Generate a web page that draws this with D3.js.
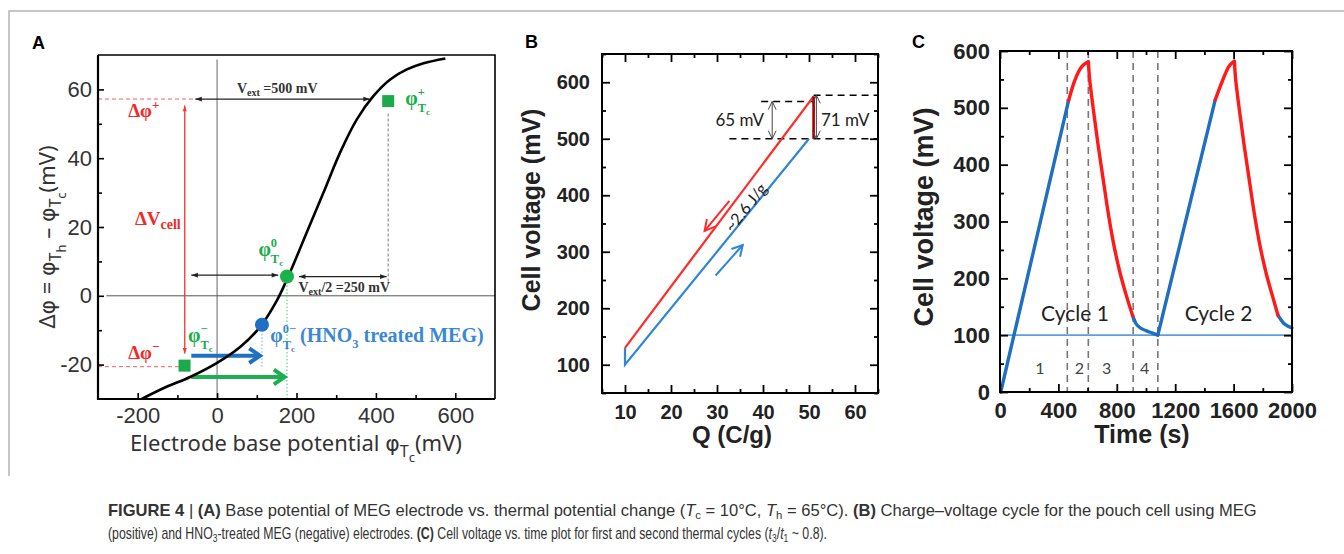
<!DOCTYPE html>
<html lang="en">
<head>
<meta charset="UTF-8">
<title>Figure 4</title>
<script src="https://cdn.jsdelivr.net/npm/d3@7"></script>
<style>
  body { margin: 0; background: #fff; }
  svg { display: block; font-family: Arial, "Liberation Sans", sans-serif; }
  .tick line { stroke: #000; }
</style>
</head>
<body>
<svg width="1344" height="554"></svg>
<script>
// ---- panel A: thermal potential change vs base potential
var curveA = [[-190,-30],[-130,-26.6],[-68,-23.6],[0,-19.5],[58,-14.9],[108,-9.1],[150,-1.5],[184,6.9],
              [226,18.5],[268,30],[310,41.7],[352,51.3],[394,58.1],[436,62.9],[478,65.8],[520,67.6],[575,69]];
var squaresA = [[-82,-20.3],[431,56.6]];
var dotsA = [[176,5.6,'green'],[113,-8.4,'blue']];
var xTicksA = [-200,0,200,400,600];
var xMinorA = [-100,100,300,500];
var yTicksA = [-20,0,20,40,60];
var yMinorA = [-10,10,30,50];

// ---- panel B: charge-voltage cycle
var chargeB = [[10,130],[10,100],[50,500]];
var dischargeB = [[10,130],[51,575]];
var heatB = [[51,500],[51,575]];
var xTicksB = [10,20,30,40,50,60];
var xMinorB = [5,15,25,35,45,55,65];
var yTicksB = [100,200,300,400,500,600];
var yMinorB = [50,150,250,350,450,550,650];

// ---- panel C: cell voltage vs time
var blueC = [
  [[5,0],[470,513]],
  [[909,134],[930,121],[960,113],[1000,108],[1040,104],[1081,100]],
  [[1081,100],[1474,514]],
  [[1904,135],[1943,121],[1970,116],[2000,113]]
];
var redC = [
  [[470,513],[505,543],[550,569],[605,581]],
  [[605,581],[612,556],[625,526],[645,486],[670,438],[700,386],[735,325],[775,265],[820,212],[865,170],[909,134]],
  [[1474,514],[1520,545],[1566,572],[1605,582]],
  [[1605,582],[1612,556],[1625,526],[1645,486],[1670,438],[1700,386],[1735,325],[1775,265],[1820,212],[1865,170],[1904,135]]
];
var dashC = [461,605,912,1081];
var phaseC = ['1','2','3','4'];
var phaseT = [274,544,731,990];
var cycleC = ['Cycle 1','Cycle 2'];
var cycleT = [514,1497];
var baseC = 100;
var xTicksC = [0,400,800,1200,1600,2000];
var xMinorC = [200,600,1000,1400,1800];
var yTicksC = [0,100,200,300,400,500,600];
var yMinorC = [50,150,250,350,450,550];

var svg = d3.select('svg');
var serif = "'Liberation Serif','DejaVu Serif',serif";
var calib = "Lato,'Open Sans',sans-serif";
var green = '#19ad4b', blueA = '#3a88d4', redA = '#ee2b2b';

// figure frame
svg.append('path').attr('d','M9,476V11H1344').attr('fill','none').attr('stroke','#b4b4b4').attr('stroke-width',1.5);

function head(g, p0, p1, len, ang, color, w, filled) {
    var a = Math.atan2(p1[1]-p0[1], p1[0]-p0[0]);
    var l = [p1[0]-len*Math.cos(a-ang), p1[1]-len*Math.sin(a-ang)];
    var r = [p1[0]-len*Math.cos(a+ang), p1[1]-len*Math.sin(a+ang)];
    var p = g.append('path').attr('d', 'M'+l+'L'+p1+'L'+r+(filled ? 'Z' : ''));
    if (filled) p.attr('fill', color);
    else p.attr('fill','none').attr('stroke',color).attr('stroke-width',w);
}
function arrow(g, p0, p1, o) {
    g.append('line').attr('x1',p0[0]).attr('y1',p0[1]).attr('x2',p1[0]).attr('y2',p1[1])
        .attr('stroke',o.color).attr('stroke-width',o.w);
    head(g, p0, p1, o.len, o.ang, o.color, o.w, o.filled);
    if (o.both) head(g, p1, p0, o.len, o.ang, o.color, o.w, o.filled);
}
function axes(g, x, y, o) {
    var x0 = x.range()[0], x1 = x.range()[1], y0 = y.range()[0], y1 = y.range()[1];
    var fmt = function(d) { return String(d); };
    var sets = [
        [d3.axisBottom(x).tickValues(o.xMaj).tickSize(-o.maj).tickPadding(o.padX).tickFormat(fmt), 0, y0],
        [d3.axisBottom(x).tickValues(o.xMin).tickSize(-o.min).tickFormat(''), 0, y0],
        [d3.axisLeft(y).tickValues(o.yMaj).tickSize(-o.maj).tickPadding(o.padY).tickFormat(fmt), x0, 0],
        [d3.axisLeft(y).tickValues(o.yMin).tickSize(-o.min).tickFormat(''), x0, 0]
    ];
    if (o.all) {
        sets.push([d3.axisTop(x).tickValues(o.xMaj).tickSize(-o.maj).tickFormat(''), 0, y1]);
        sets.push([d3.axisTop(x).tickValues(o.xMin).tickSize(-o.min).tickFormat(''), 0, y1]);
        sets.push([d3.axisRight(y).tickValues(o.yMaj).tickSize(-o.maj).tickFormat(''), x1, 0]);
        sets.push([d3.axisRight(y).tickValues(o.yMin).tickSize(-o.min).tickFormat(''), x1, 0]);
    }
    sets.forEach(function(s) {
        var a = g.append('g').attr('transform','translate('+s[1]+','+s[2]+')').call(s[0]);
        a.select('.domain').remove();
        a.selectAll('line').attr('stroke-width', o.tw);
        a.selectAll('text').attr('font-size', o.fs).attr('font-weight', o.fw).attr('fill', o.tc)
            .attr('font-family', "Arial,'Liberation Sans',sans-serif");
    });
}
function rich(g, x, y, parts, base) {
    var t = g.append('text').attr('x',x).attr('y',y);
    for (var k in base) t.attr(k, base[k]);
    var cur = 0;
    parts.forEach(function(p) {
        var off = p.off || 0;
        var s = t.append('tspan').text(p.t).attr('dy', off - cur);
        if (p.fs) s.attr('font-size', p.fs);
        if (p.it) s.attr('font-style','italic');
        if (p.b) s.attr('font-weight','bold');
        if (p.ff) s.attr('font-family', p.ff);
        cur = off;
    });
    return t;
}

// =================== Panel A ===================
var xA = d3.scaleLinear().domain([-300,700]).range([98,495]);
var yA = d3.scaleLinear().domain([-30,70]).range([399,55]);
var gA = svg.append('g');
gA.append('text').attr('x',32).attr('y',49).text('A').attr('font-weight','bold').attr('font-size',18);

// reference lines
gA.append('line').attr('x1',xA(0)).attr('x2',xA(0)).attr('y1',yA(-30)).attr('y2',yA(68.7)).attr('stroke','#9a9a9a').attr('stroke-width',1.5);
gA.append('line').attr('x1',xA(-279)).attr('x2',xA(700)).attr('y1',yA(0)).attr('y2',yA(0)).attr('stroke','#555').attr('stroke-width',1);

// red dashed guides
gA.append('line').attr('x1',xA(-300)).attr('x2',xA(-56)).attr('y1',yA(57.2)).attr('y2',yA(57.2)).attr('stroke','#f06060').attr('stroke-width',1).attr('stroke-dasharray','4,3');
gA.append('line').attr('x1',xA(-300)).attr('x2',xA(-90)).attr('y1',yA(-20.6)).attr('y2',yA(-20.6)).attr('stroke','#f06060').attr('stroke-width',1).attr('stroke-dasharray','4,3');
arrow(gA, [xA(-81.5),yA(-16.8)], [xA(-81.5),yA(55.3)], {color:'#ff3030', w:1.3, len:6, ang:0.35, filled:true, both:true});

// dotted drops
gA.append('line').attr('x1',xA(431)).attr('x2',xA(431)).attr('y1',yA(53)).attr('y2',yA(3.4)).attr('stroke','#999').attr('stroke-width',1.3).attr('stroke-dasharray','3,2');
gA.append('line').attr('x1',xA(176)).attr('x2',xA(176)).attr('y1',yA(3)).attr('y2',yA(-30)).attr('stroke','#86dba6').attr('stroke-width',1.5).attr('stroke-dasharray','1.5,2');
gA.append('line').attr('x1',xA(113)).attr('x2',xA(113)).attr('y1',yA(-11)).attr('y2',yA(-21.3)).attr('stroke','#9cc8ee').attr('stroke-width',1.5).attr('stroke-dasharray','1.5,2');

// black span arrows
var blk = {color:'#222', w:1.3, len:7, ang:0.35, filled:true, both:true};
arrow(gA, [xA(-55),yA(57.2)], [xA(385),yA(57.2)], blk);
arrow(gA, [xA(-65),yA(6)], [xA(154),yA(6)], blk);
arrow(gA, [xA(206),yA(5.6)], [xA(427),yA(5.6)], blk);

// shift arrows
arrow(gA, [xA(-65),yA(-17.4)], [xA(108),yA(-17.4)], {color:'#1f6fc5', w:4, len:13, ang:0.6});
arrow(gA, [xA(-65),yA(-23.6)], [xA(170),yA(-23.6)], {color:'#1db050', w:4, len:13, ang:0.6});

// curve
gA.append('path').datum(curveA)
    .attr('d', d3.line().x(function(d){return xA(d[0]);}).y(function(d){return yA(d[1]);}).curve(d3.curveCatmullRom))
    .attr('fill','none').attr('stroke','#000').attr('stroke-width',2.6);

gA.selectAll('rect.sq').data(squaresA).enter().append('rect')
    .attr('x', function(d){return xA(d[0])-6;}).attr('y', function(d){return yA(d[1])-6;})
    .attr('width',12).attr('height',12).attr('fill','#1aa94b');
gA.selectAll('circle.dot').data(dotsA).enter().append('circle')
    .attr('cx', function(d){return xA(d[0]);}).attr('cy', function(d){return yA(d[1]);}).attr('r',7)
    .attr('fill', function(d){return d[2] === 'green' ? '#1db14b' : '#1f6fc5';});

// frame + axes A
gA.append('path').attr('d','M'+xA(-300)+','+yA(70)+'V'+yA(-30)+'H'+xA(700)).attr('fill','none').attr('stroke','#000').attr('stroke-width',2.2);
gA.append('path').attr('d','M'+xA(-300)+','+yA(70)+'H'+xA(700)+'V'+yA(-30)).attr('fill','none').attr('stroke','#000').attr('stroke-width',1.6);
axes(gA, xA, yA, {xMaj:xTicksA, xMin:xMinorA, yMaj:yTicksA, yMin:yMinorA, maj:6, min:4, tw:1.6, padX:8, padY:6, fs:22, fw:'normal', tc:'#333'});

// labels A
var phiFont = "'DejaVu Sans',sans-serif";
rich(gA, 296, 451, [{t:'Electrode base potential '},{t:'φ',ff:phiFont},{t:'T',fs:16,off:6},{t:'c',fs:13,off:11},{t:'(mV)',off:0}],
    {'font-family':"'Noto Sans','Open Sans',sans-serif", 'font-size':22, fill:'#333', 'text-anchor':'middle'});
rich(gA, 0, 0, [{t:'Δ'},{t:'φ',ff:phiFont},{t:' = '},{t:'φ',ff:phiFont},{t:'T',fs:16,off:6},{t:'h',fs:13,off:11},{t:' – ',off:0},{t:'φ',ff:phiFont},{t:'T',fs:16,off:6},{t:'c',fs:13,off:11},{t:'(mV)',off:0}],
    {'font-family':"'Noto Sans','Open Sans',sans-serif", 'font-size':22, fill:'#333', 'text-anchor':'middle',
     transform:'translate(55,237) rotate(-90)'});

function phi(g, x, y, sup, color, size, extra) {
    var t = g.append('text').attr('x',x).attr('y',y).attr('fill',color)
        .attr('font-family',serif).attr('font-weight','bold').attr('font-size',size);
    t.append('tspan').text('φ');
    var s = t.append('tspan').text(sup).attr('font-size',size*0.62).attr('dy',-size*0.42);
    var w = s.node().getComputedTextLength();
    t.append('tspan').text('T').attr('font-size',size*0.62).attr('dx',-w).attr('dy',size*0.8);
    t.append('tspan').text('c').attr('font-size',size*0.45).attr('dy',size*0.15);
    if (extra) {
        t.append('tspan').text(extra[0]).attr('dy',-size*0.53);
        t.append('tspan').text(extra[1]).attr('font-size',size*0.62).attr('dy',size*0.3);
        t.append('tspan').text(extra[2]).attr('dy',-size*0.3);
    }
}
phi(gA, xA(474), yA(55.6), '+', green, 20);
phi(gA, xA(104), yA(11.6), '0', green, 20);
phi(gA, xA(-73), yA(-13.3), '−', green, 20);
phi(gA, xA(134), yA(-13.3), '0−', blueA, 20, [' (HNO','3',' treated MEG)']);

var redBase = {'font-family':serif, 'font-weight':'bold', 'font-size':19, fill:redA};
rich(gA, xA(-224), yA(51.9), [{t:'Δφ'},{t:'+',fs:13,off:-8}], redBase);
rich(gA, xA(-207), yA(20.6), [{t:'ΔV'},{t:'cell',fs:14,off:4}], redBase);
rich(gA, xA(-224), yA(-18.3), [{t:'Δφ'},{t:'−',fs:13,off:-8}], redBase);

var smallBase = {'font-family':serif, 'font-weight':'bold', 'font-size':14, fill:'#333'};
rich(gA, xA(50), yA(59), [{t:'V'},{t:'ext',fs:10,off:3},{t:' =500 mV',off:0}], smallBase);
rich(gA, xA(205), yA(1.2), [{t:'V'},{t:'ext',fs:10,off:3},{t:'/2 =250 mV',off:0}], smallBase);

// =================== Panel B ===================
var xB = d3.scaleLinear().domain([5,65]).range([602,878]);
var yB = d3.scaleLinear().domain([50,650]).range([393,54]);
var gB = svg.append('g');
gB.append('text').attr('x',525).attr('y',48).text('B').attr('font-weight','bold').attr('font-size',18);
var lineB = d3.line().x(function(d){return xB(d[0]);}).y(function(d){return yB(d[1]);});

// dashed levels
[[51,65,577],[39.6,51,566],[32.7,65,500]].forEach(function(d) {
    gB.append('line').attr('x1',xB(d[0])).attr('x2',xB(d[1])).attr('y1',yB(d[2])).attr('y2',yB(d[2]))
        .attr('stroke','#000').attr('stroke-width',1.6).attr('stroke-dasharray','7,5');
});
gB.append('path').datum(chargeB).attr('d',lineB).attr('fill','none').attr('stroke','#2f86d6').attr('stroke-width',2.2);
gB.append('path').datum(dischargeB).attr('d',lineB).attr('fill','none').attr('stroke','#ff2a2a').attr('stroke-width',2.2);
gB.append('path').datum(heatB).attr('d',lineB).attr('fill','none').attr('stroke','#a00000').attr('stroke-width',2.6);

var thin = {color:'#444', w:1, len:9, ang:0.45, both:true};
arrow(gB, [xB(42),yB(566)], [xB(42),yB(500)], thin);
arrow(gB, [xB(51.6),yB(577)], [xB(51.6),yB(500)], thin);
gB.append('text').attr('x',xB(40.2)).attr('y',yB(533)+6).attr('text-anchor','end').text('65 mV')
    .attr('font-family',calib).attr('font-size',17).attr('fill','#222');
gB.append('text').attr('x',xB(52.6)).attr('y',yB(533)+6).text('71 mV')
    .attr('font-family',calib).attr('font-size',17).attr('fill','#222');

arrow(gB, [xB(32.7),yB(390)], [xB(27.3),yB(337)], {color:'#ff2a2a', w:2, len:12, ang:0.5});
arrow(gB, [xB(29.7),yB(258)], [xB(35.6),yB(312)], {color:'#2f86d6', w:2, len:12, ang:0.5});
var angB = Math.atan2(yB(500)-yB(100), xB(50)-xB(10)) * 180 / Math.PI;
gB.append('text').attr('transform','translate('+xB(37.2)+','+yB(372)+') rotate('+angB+')')
    .attr('text-anchor','middle').text('~2.6 J/g').attr('font-family',calib).attr('font-size',16).attr('fill','#222');

gB.append('rect').attr('x',602).attr('y',54).attr('width',276).attr('height',339).attr('fill','none').attr('stroke','#000').attr('stroke-width',2);
axes(gB, xB, yB, {xMaj:xTicksB, xMin:xMinorB, yMaj:yTicksB, yMin:yMinorB, maj:8, min:4, tw:1.8, padX:12, padY:12, fs:20, fw:'bold', tc:'#222', all:true});
gB.append('text').attr('x',732).attr('y',443).attr('text-anchor','middle').text('Q (C/g)').attr('font-weight','bold').attr('font-size',24).attr('fill','#222');
gB.append('text').attr('transform','translate(540,210) rotate(-90)').attr('text-anchor','middle').text('Cell voltage (mV)')
    .attr('font-weight','bold').attr('font-size',25).attr('fill','#222');

// =================== Panel C ===================
var xC = d3.scaleLinear().domain([0,2000]).range([1000,1292]);
var yC = d3.scaleLinear().domain([0,600]).range([392,51]);
var gC = svg.append('g');
gC.append('text').attr('x',912).attr('y',48).text('C').attr('font-weight','bold').attr('font-size',18);
var lineC = d3.line().x(function(d){return xC(d[0]);}).y(function(d){return yC(d[1]);}).curve(d3.curveMonotoneX);

gC.append('line').attr('x1',xC(0)).attr('x2',xC(2000)).attr('y1',yC(baseC)).attr('y2',yC(baseC)).attr('stroke','#5b9fe0').attr('stroke-width',1.6);
gC.selectAll('line.dash').data(dashC).enter().append('line')
    .attr('x1',function(d){return xC(d);}).attr('x2',function(d){return xC(d);}).attr('y1',yC(600)).attr('y2',yC(0))
    .attr('stroke','#777').attr('stroke-width',1.6).attr('stroke-dasharray','7,5');
gC.selectAll('path.blue').data(blueC).enter().append('path').attr('d',lineC)
    .attr('fill','none').attr('stroke','#1f6fc0').attr('stroke-width',3.4).attr('stroke-linecap','round');
gC.selectAll('path.red').data(redC).enter().append('path').attr('d',lineC)
    .attr('fill','none').attr('stroke','#ff1a1a').attr('stroke-width',3.4).attr('stroke-linecap','round');

gC.selectAll('text.ph').data(phaseC).enter().append('text')
    .attr('x',function(d,i){return xC(phaseT[i]);}).attr('y',yC(43)+6).attr('text-anchor','middle').text(function(d){return d;})
    .attr('font-family',calib).attr('font-size',16).attr('fill','#444');
gC.selectAll('text.cy').data(cycleC).enter().append('text')
    .attr('x',function(d,i){return xC(cycleT[i]);}).attr('y',yC(137)+7).attr('text-anchor','middle').text(function(d){return d;})
    .attr('font-family',calib).attr('font-size',21).attr('fill','#222');

gC.append('rect').attr('x',1000).attr('y',51).attr('width',292).attr('height',341).attr('fill','none').attr('stroke','#000').attr('stroke-width',2);
axes(gC, xC, yC, {xMaj:xTicksC, xMin:xMinorC, yMaj:yTicksC, yMin:yMinorC, maj:8, min:4, tw:1.8, padX:10, padY:10, fs:22, fw:'bold', tc:'#222', all:true});
gC.append('text').attr('x',1142).attr('y',443).attr('text-anchor','middle').text('Time (s)').attr('font-weight','bold').attr('font-size',25).attr('fill','#222');
gC.append('text').attr('transform','translate(933,217) rotate(-90)').attr('text-anchor','middle').text('Cell voltage (mV)')
    .attr('font-weight','bold').attr('font-size',27).attr('fill','#222');

// =================== caption ===================
var capBase = {'font-family':"'Liberation Sans',Arial,sans-serif", 'font-size':16, fill:'#333'};
function capLine(y, parts, width) {
    var g = svg.append('g');
    var t = rich(g, 0, 0, parts, capBase);
    var w = t.node().getComputedTextLength();
    g.attr('transform', 'translate(108,' + y + ') scale(' + (width / w) + ',1)');
}
capLine(516, [
    {t:'FIGURE 4', b:true},{t:' | '},{t:'(A)', b:true},{t:' Base potential of MEG electrode vs. thermal potential change ('},
    {t:'T', it:true},{t:'c', fs:11, off:3},{t:' = 10°C, ', off:0},{t:'T', it:true},{t:'h', fs:11, off:3},{t:' = 65°C). ', off:0},
    {t:'(B)', b:true},{t:' Charge–voltage cycle for the pouch cell using MEG'}], 1150);
capLine(539, [
    {t:'(positive) and HNO'},{t:'3', fs:11, off:3},{t:'-treated MEG (negative) electrodes. ', off:0},{t:'(C)', b:true},
    {t:' Cell voltage vs. time plot for first and second thermal cycles ('},{t:'t', it:true},{t:'3', fs:11, off:3},
    {t:'/', off:0},{t:'t', it:true},{t:'1', fs:11, off:3},{t:' ~ 0.8).', off:0}], 720);
</script>
</body>
</html>
